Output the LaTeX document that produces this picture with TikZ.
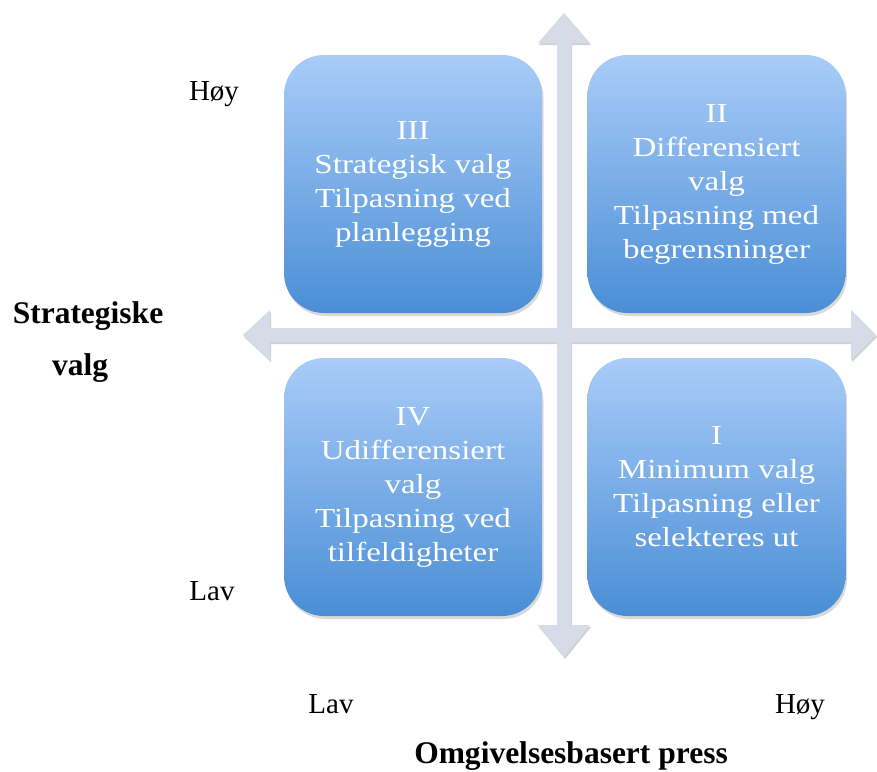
\documentclass[tikz,border=0pt]{standalone}
\usepackage{fontspec}
\setmainfont{Liberation Serif}
\newfontfamily\boxfont[FakeStretch=1.2]{Liberation Serif}
\usetikzlibrary{shadows}
\definecolor{boxtop}{HTML}{A9CCF8}
\definecolor{boxbot}{HTML}{4A8ED6}
\definecolor{arrowc}{HTML}{D5DCE8}
\begin{document}
\begin{tikzpicture}[x=1pt,y=-1pt,
  quad/.style={rounded corners=40pt, minimum width=258pt, minimum height=258pt,
    top color=boxtop, bottom color=boxbot, text=white, align=center,
    font=\boxfont\fontsize{27.5}{34}\selectfont,
    drop shadow={shadow xshift=1.5pt, shadow yshift=-3pt, opacity=0.3}, inner sep=0pt},
  lbl/.style={font=\fontsize{29}{34}\selectfont, inner sep=0pt, anchor=base},
  blbl/.style={font=\bfseries\fontsize{31.5}{36}\selectfont, inner sep=0pt, anchor=base},
  axshadow/.style={fill=black, opacity=0.18, shift={(1,2)}},
  axis/.style={fill=arrowc}]
\useasboundingbox (0,0) rectangle (877,771);
\def\vpath{(564,13) -- (590,43) -- (571,43) -- (571,625) -- (590,625) -- (564,657)
  -- (538,625) -- (557,625) -- (557,43) -- (538,43) -- cycle}
\def\hpath{(243,335) -- (270,310) -- (270,328) -- (851,328) -- (851,310) -- (876,335)
  -- (851,360) -- (851,342) -- (270,342) -- (270,360) -- cycle}
% axes: shadows first, then fills
\begin{scope}[transparency group, opacity=0.18]
  \fill[black, shift={(1,2)}] \vpath;
  \fill[black, shift={(1,2)}] \hpath;
\end{scope}
\fill[arrowc] \hpath;
\fill[arrowc] \vpath;
% quadrants
\node[quad] (q3) at (413,184) {III\\Strategisk valg\\Tilpasning ved\\planlegging};
\node[quad] (q2) at (716.5,184) {II\\Differensiert\\valg\\Tilpasning med\\begrensninger};
\node[quad] (q4) at (413,487) {IV\\Udifferensiert\\valg\\Tilpasning ved\\tilfeldigheter};
\node[quad] (q1) at (716.5,487) {I\\Minimum valg\\Tilpasning eller\\selekteres ut};
% labels
\node[lbl] (yh) at (214,100) {Høy};
\node[lbl] (yl) at (212,600) {Lav};
\node[lbl] (xl) at (331,713) {Lav};
\node[lbl] (xh) at (800,713) {Høy};
\node[blbl] (ya) at (88,323) {Strategiske};
\node[blbl] (yb) at (80,375) {valg};
\node[blbl] (xa) at (571,763) {Omgivelsesbasert press};
\end{tikzpicture}
\end{document}
